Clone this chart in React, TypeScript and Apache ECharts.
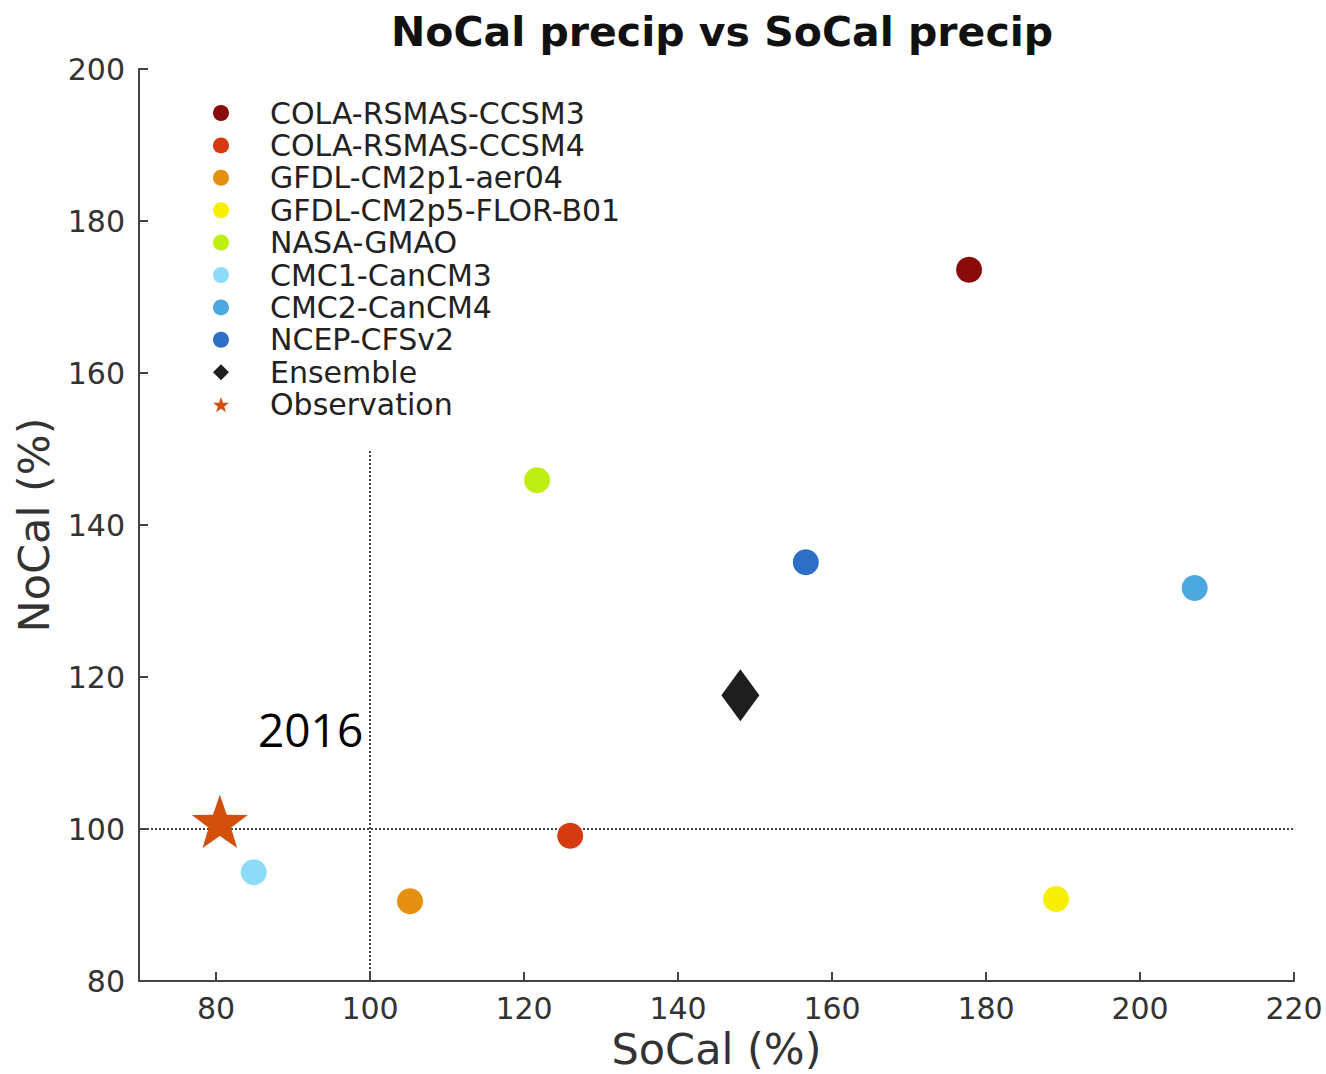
import React, { useEffect, useRef } from "react";
import * as echarts from "echarts";

const modelNames = [
  "COLA-RSMAS-CCSM3",
  "COLA-RSMAS-CCSM4",
  "GFDL-CM2p1-aer04",
  "GFDL-CM2p5-FLOR-B01",
  "NASA-GMAO",
  "CMC1-CanCM3",
  "CMC2-CanCM4",
  "NCEP-CFSv2",
];
const modelColors = [
  "#8a0b0b",
  "#d63a10",
  "#e59010",
  "#f7ef00",
  "#bfee12",
  "#8ddcf7",
  "#4ca9e0",
  "#2e6ec6",
];
const socal = [177.8, 126.0, 105.2, 189.1, 121.7, 84.9, 207.1, 156.6];
const nocal = [173.6, 99.1, 90.5, 90.8, 145.9, 94.3, 131.7, 135.1];

const ensemble = [148.1, 117.6];
const observation = [80.5, 101.0];

const xTicks = [80, 100, 120, 140, 160, 180, 200, 220];

const refH = [[70, 100], [220, 100]];
const refV = [[100, 80], [100, 150]];

const STAR =
  "path://M0,-10 L2.35,-3.24 L9.51,-3.09 L3.8,1.24 L5.88,8.09 L0,4 L-5.88,8.09 L-3.8,1.24 L-9.51,-3.09 L-2.35,-3.24 Z";

export default function App() {
  const ref = useRef<HTMLDivElement>(null);
  useEffect(() => {
    document.body.style.margin = "0";
    document.body.style.overflow = "hidden";
    if (!ref.current) return;
    const chart = echarts.init(ref.current, null, { renderer: "svg" });
    const font = "DejaVu Sans";
    const series: any[] = modelNames.map((n, i) => ({
      type: "scatter",
      name: n,
      symbol: "circle",
      symbolSize: 26,
      itemStyle: { color: modelColors[i], opacity: 1 },
      data: [[socal[i], nocal[i]]],
      z: 5,
    }));
    series.push({
      type: "scatter",
      name: "Ensemble",
      symbol: "diamond",
      symbolSize: [38, 52],
      itemStyle: { color: "#1e1e1e", opacity: 1 },
      data: [ensemble],
      z: 5,
    });
    series.push({
      type: "scatter",
      name: "Observation",
      symbol: STAR,
      symbolKeepAspect: true,
      symbolSize: 56,
      itemStyle: { color: "#d2500c", opacity: 1 },
      data: [observation],
      z: 6,
    });
    series.push({
      type: "line",
      name: "refH",
      data: refH,
      symbol: "none",
      lineStyle: { color: "#444", width: 2, type: "dotted" },
      z: 2,
      silent: true,
    });
    series.push({
      type: "line",
      name: "refV",
      data: refV,
      symbol: "none",
      lineStyle: { color: "#444", width: 2, type: "dotted" },
      z: 2,
      silent: true,
    });

    const legendData: any[] = modelNames.map((n) => ({ name: n, icon: "circle" }));
    legendData.push({ name: "Ensemble", icon: "diamond" });
    legendData.push({ name: "Observation", icon: STAR });

    chart.setOption({
      animation: false,
      backgroundColor: "#ffffff",
      title: {
        text: "NoCal precip vs SoCal precip",
        left: 717,
        textAlign: "center",
        top: 6,
        textStyle: {
          fontFamily: "DejaVu Sans",
          fontWeight: "bold",
          fontSize: 41,
          color: "#111",
        },
      },
      legend: {
        orient: "vertical",
        left: 213,
        top: 98,
        padding: 0,
        itemWidth: 16,
        itemHeight: 16,
        itemGap: 2.4,
        data: legendData,
        selectedMode: false,
        textStyle: {
          fontFamily: font,
          fontSize: 30,
          lineHeight: 30,
          color: "#222",
          padding: [0, 0, 0, 36],
        },
      },
      grid: {
        left: 139,
        right: 32,
        top: 69,
        bottom: 93,
        containLabel: false,
        outerBoundsMode: "none",
      },
      xAxis: {
        type: "value",
        min: 70,
        max: 220,
        name: "SoCal (%)",
        nameLocation: "middle",
        nameGap: 42,
        nameTextStyle: { fontFamily: font, fontSize: 43, color: "#333" },
        axisLine: { show: true, onZero: false, lineStyle: { color: "#444", width: 2 } },
        axisTick: {
          show: true,
          inside: true,
          length: 9,
          customValues: xTicks,
          lineStyle: { color: "#444", width: 2 },
        },
        axisLabel: {
          customValues: xTicks,
          fontFamily: font,
          fontSize: 30,
          color: "#333",
          margin: 12,
        },
        splitLine: { show: false },
      },
      yAxis: {
        type: "value",
        min: 80,
        max: 200,
        interval: 20,
        name: "NoCal (%)",
        nameLocation: "middle",
        nameGap: 84,
        nameTextStyle: { fontFamily: font, fontSize: 43, color: "#333" },
        axisLine: { show: true, onZero: false, lineStyle: { color: "#444", width: 2 } },
        axisTick: {
          show: true,
          inside: true,
          length: 9,
          lineStyle: { color: "#444", width: 2 },
        },
        axisLabel: {
          fontFamily: font,
          fontSize: 30,
          color: "#333",
          margin: 14,
        },
        splitLine: { show: false },
      },
      graphic: [
        {
          type: "text",
          left: 258,
          top: 706,
          style: {
            text: "2016",
            fontFamily: "Open Sans",
            fontSize: 46,
            fill: "#000",
          },
          z: 10,
        },
      ],
      series,
    });
    return () => chart.dispose();
  }, []);
  return <div ref={ref} style={{ width: 1326, height: 1074 }} />;
}
